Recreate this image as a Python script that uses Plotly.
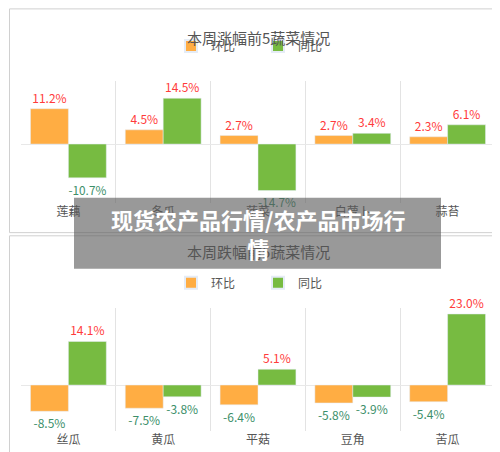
import plotly.graph_objects as go

# top panel: biggest risers
top_veg = ['莲藕', '冬瓜', '菠菜', '白萝卜', '蒜苔']
top_hb = [11.2, 4.5, 2.7, 2.7, 2.3]
top_tb = [-10.7, 14.5, -14.7, 3.4, 6.1]

# bottom panel: biggest fallers
bot_veg = ['丝瓜', '黄瓜', '平菇', '豆角', '苦瓜']
bot_hb = [-8.5, -7.5, -6.4, -5.8, -5.4]
bot_tb = [14.1, -3.8, 5.1, -3.9, 23.0]

ORANGE = '#FFAD43'
GREEN = '#77BB41'
FONT = 'Noto Sans CJK SC'


def lab_colors(vals):
    return ['#FF3B3B' if v >= 0 else '#3C8F6A' for v in vals]


fig = go.Figure()
for veg, hb, tb, xa, ya, lg in [
    (top_veg, top_hb, top_tb, 'x', 'y', 'legend'),
    (bot_veg, bot_hb, bot_tb, 'x2', 'y2', 'legend2'),
]:
    fig.add_bar(x=veg, y=hb, name='环比', marker_color=ORANGE, xaxis=xa, yaxis=ya,
                legend=lg, text=[f'{v:.1f}%' for v in hb], textposition='outside',
                textfont=dict(color=lab_colors(hb), size=12), cliponaxis=False)
    fig.add_bar(x=veg, y=tb, name='同比', marker_color=GREEN, xaxis=xa, yaxis=ya,
                legend=lg, text=[f'{v:.1f}%' for v in tb], textposition='outside',
                textfont=dict(color=lab_colors(tb), size=12), cliponaxis=False)

axis_x = dict(showgrid=True, gridcolor='#E3E3E3', tickson='boundaries', ticks='',
              tickfont=dict(size=12, color='#555'), showline=False, zeroline=False,
              automargin=False)
axis_y = dict(showgrid=False, showticklabels=False, zeroline=True, zerolinecolor='#E8E8E8',
              zerolinewidth=1, automargin=False)

leg = dict(orientation='h', x=0.5, xanchor='center', yanchor='middle',
           font=dict(size=12, color='#555'), entrywidth=42, entrywidthmode='pixels',
           traceorder='normal', itemsizing='constant', bgcolor='rgba(0,0,0,0)')

fig.update_layout(
    width=500, height=452,
    margin=dict(l=0, r=0, t=0, b=0, autoexpand=False),
    paper_bgcolor='white', plot_bgcolor='white',
    font=dict(family=FONT),
    barmode='group', bargap=0.2, bargroupgap=0,
    xaxis=dict(domain=[0.026, 0.974], anchor='y', **axis_x),
    yaxis=dict(domain=[0.569, 0.838], range=[-18.6, 19.9], anchor='x', **axis_y),
    xaxis2=dict(domain=[0.026, 0.974], anchor='y2', **axis_x),
    yaxis2=dict(domain=[0.064, 0.336], range=[-14.9, 24.9], anchor='x2', **axis_y),
    legend=dict(y=0.916, **leg),
    legend2=dict(y=0.392, **leg),
    showlegend=True,
    shapes=[
        dict(type='rect', xref='paper', yref='paper', x0=0.003, x1=0.997, y0=0.503, y1=0.998,
             line=dict(color='#D0D0D0', width=1)),
        dict(type='rect', xref='paper', yref='paper', x0=0.003, x1=0.997, y0=0.004, y1=0.496,
             line=dict(color='#D0D0D0', width=1)),
        dict(type='rect', xref='paper', yref='paper', x0=0.132, x1=0.866, y0=0.423, y1=0.580,
             fillcolor='rgba(90,90,90,0.62)', line=dict(width=0), layer='above'),
    ],
    annotations=[
        dict(text='本周涨幅前5蔬菜情况', xref='paper', yref='paper', x=0.5, y=0.962,
             showarrow=False, font=dict(size=15, color='#555')),
        dict(text='本周跌幅前5蔬菜情况', xref='paper', yref='paper', x=0.5, y=0.462,
             showarrow=False, font=dict(size=15, color='#555')),
        dict(text='<b>现货农产品行情/农产品市场行<br>情</b>', xref='paper', yref='paper',
             x=0.5, y=0.502, showarrow=False, align='center',
             font=dict(size=22, color='white')),
    ],
)

fig.write_html('out.html')
